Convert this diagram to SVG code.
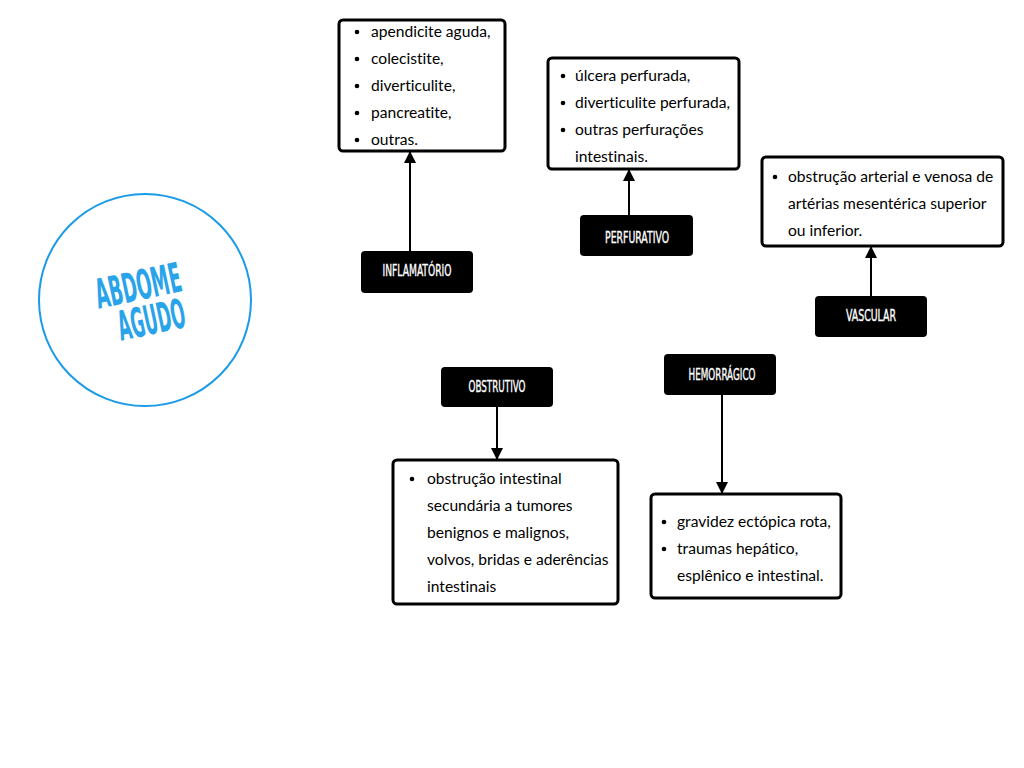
<svg xmlns="http://www.w3.org/2000/svg" width="1024" height="768" viewBox="0 0 1024 768">
<defs>
<marker id="ah" markerWidth="12" markerHeight="12" refX="11" refY="6" orient="auto" markerUnits="userSpaceOnUse" viewBox="0 0 12 12">
<path d="M0,0 L12,6 L0,12 Z" fill="#000"/>
</marker>
<style>
.box{fill:#fff;stroke:#000;stroke-width:3}
.lab{fill:#000}
.lt{font-family:"DejaVu Sans Condensed","DejaVu Sans",sans-serif;font-stretch:condensed;font-size:15px;fill:#fff;stroke:#fff;stroke-width:0.35;text-anchor:middle;dominant-baseline:central}
.t{font-family:Lato,"Liberation Sans",sans-serif;font-size:15.6px;fill:#000;dominant-baseline:central;font-variant-ligatures:none;font-feature-settings:"liga" 0}
.b{fill:#000}
.c{stroke:#000;stroke-width:2;fill:none}
</style>
</defs>
<rect width="1024" height="768" fill="#fff"/>
<g id="abdome-agudo">
<circle cx="145" cy="300" r="106" fill="none" stroke="#1a9be8" stroke-width="2"/>
<g transform="rotate(-12 140 300)" font-family="'DejaVu Sans Condensed','DejaVu Sans',sans-serif" font-weight="bold" font-size="41" fill="#29a3ea" text-anchor="middle" font-stretch="condensed">
<text x="141" y="300" textLength="87" lengthAdjust="spacingAndGlyphs">ABDOME</text>
<text x="147" y="336" textLength="68" lengthAdjust="spacingAndGlyphs">AGUDO</text>
</g>
</g>
<g id="connectors">
<line class="c" x1="410" y1="251" x2="410" y2="152" marker-end="url(#ah)"/>
<line class="c" x1="629" y1="215" x2="629" y2="170" marker-end="url(#ah)"/>
<line class="c" x1="871" y1="296" x2="871" y2="247" marker-end="url(#ah)"/>
<line class="c" x1="497" y1="407" x2="497" y2="459" marker-end="url(#ah)"/>
<line class="c" x1="722" y1="395" x2="722" y2="493" marker-end="url(#ah)"/>
</g>
<g id="inflamatorio">
<rect class="lab" x="361" y="251" width="112" height="42" rx="4"/>
<text class="lt" x="417" y="271" textLength="69" lengthAdjust="spacingAndGlyphs">INFLAMATÓRIO</text>
</g>
<g id="inflamatorio-detalhes">
<rect class="box" x="339" y="20" width="166" height="131" rx="4"/>
<circle class="b" cx="357" cy="32" r="2.3"/><text class="t" x="371" y="31">apendicite aguda,</text>
<circle class="b" cx="357" cy="59" r="2.3"/><text class="t" x="371" y="58">colecistite,</text>
<circle class="b" cx="357" cy="86" r="2.3"/><text class="t" x="371" y="85">diverticulite,</text>
<circle class="b" cx="357" cy="113" r="2.3"/><text class="t" x="371" y="112">pancreatite,</text>
<circle class="b" cx="357" cy="140" r="2.3"/><text class="t" x="371" y="139">outras.</text>
</g>
<g id="perfurativo">
<rect class="lab" x="580" y="215" width="113" height="41" rx="4"/>
<text class="lt" x="637" y="238" textLength="64" lengthAdjust="spacingAndGlyphs">PERFURATIVO</text>
</g>
<g id="perfurativo-detalhes">
<rect class="box" x="548" y="58" width="191" height="111" rx="4"/>
<circle class="b" cx="563" cy="76" r="2.3"/><text class="t" x="575" y="75">úlcera perfurada,</text>
<circle class="b" cx="563" cy="103" r="2.3"/><text class="t" x="575" y="102">diverticulite perfurada,</text>
<circle class="b" cx="563" cy="130" r="2.3"/><text class="t" x="575" y="129">outras perfurações</text>
<text class="t" x="575" y="156">intestinais.</text>
</g>
<g id="vascular">
<rect class="lab" x="815" y="296" width="112" height="41" rx="4"/>
<text class="lt" x="871" y="316" textLength="50" lengthAdjust="spacingAndGlyphs">VASCULAR</text>
</g>
<g id="vascular-detalhes">
<rect class="box" x="762" y="157" width="241" height="89" rx="4"/>
<circle class="b" cx="775" cy="177" r="2.3"/><text class="t" x="788" y="176">obstrução arterial e venosa de</text>
<text class="t" x="788" y="203">artérias mesentérica superior</text>
<text class="t" x="788" y="230">ou inferior.</text>
</g>
<g id="obstrutivo">
<rect class="lab" x="441" y="367" width="112" height="40" rx="4"/>
<text class="lt" x="497" y="387" textLength="57" lengthAdjust="spacingAndGlyphs">OBSTRUTIVO</text>
</g>
<g id="obstrutivo-detalhes">
<rect class="box" x="393" y="460" width="225" height="144" rx="4"/>
<circle class="b" cx="412" cy="479" r="2.3"/><text class="t" x="427" y="478">obstrução intestinal</text>
<text class="t" x="427" y="505">secundária a tumores</text>
<text class="t" x="427" y="532">benignos e malignos,</text>
<text class="t" x="427" y="559">volvos, bridas e aderências</text>
<text class="t" x="427" y="586">intestinais</text>
</g>
<g id="hemorragico">
<rect class="lab" x="664" y="354" width="112" height="41" rx="4"/>
<text class="lt" x="722" y="375" textLength="67" lengthAdjust="spacingAndGlyphs">HEMORRÁGICO</text>
</g>
<g id="hemorragico-detalhes">
<rect class="box" x="651" y="494" width="190" height="104" rx="4"/>
<circle class="b" cx="664" cy="522" r="2.3"/><text class="t" x="677" y="521">gravidez ectópica rota,</text>
<circle class="b" cx="664" cy="549" r="2.3"/><text class="t" x="677" y="548">traumas hepático,</text>
<text class="t" x="677" y="575">esplênico e intestinal.</text>
</g>
</svg>
